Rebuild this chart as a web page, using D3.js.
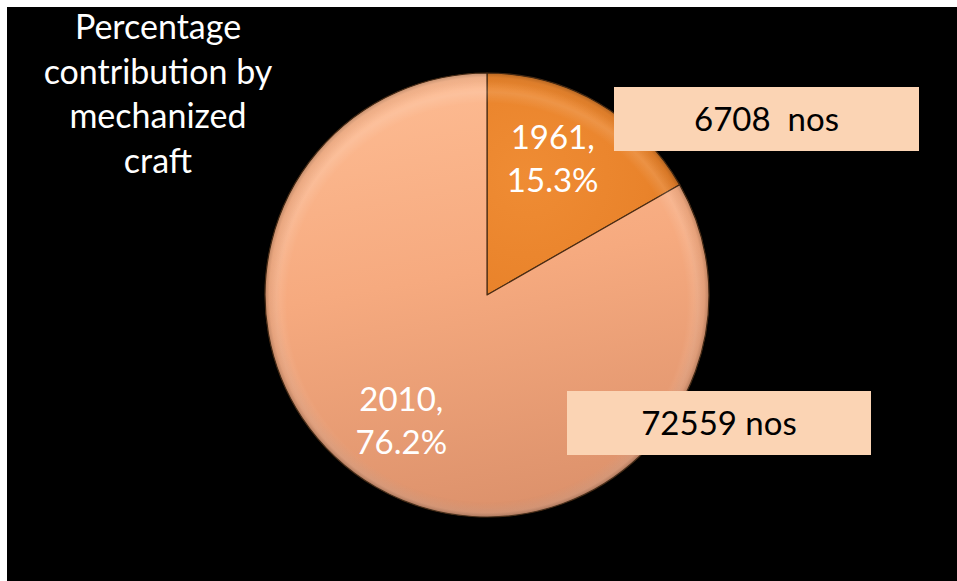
<!DOCTYPE html>
<html>
<head>
<meta charset="utf-8">
<script src="https://cdn.jsdelivr.net/npm/d3@7"></script>
<style>
  html, body { margin: 0; padding: 0; background: #ffffff; }
  svg { display: block; }
  text { font-family: Lato, "Open Sans", sans-serif; }
</style>
</head>
<body>
<svg id="chart" width="957" height="581"></svg>
<script>
// Mechanized craft: share by census year
const years = ["1961", "2010"];
const shares = [15.3, 76.2];
const craftCounts = [6708, 72559];
const countLabels = ["6708  nos", "72559 nos"];
const titleLines = ["Percentage", "contribution by", "mechanized", "craft"];

const W = 957, H = 581;
const svg = d3.select("#chart");

// black slide panel
svg.append("rect").attr("x", 7).attr("y", 7).attr("width", W - 7).attr("height", H - 7).attr("fill", "#000");

const defs = svg.append("defs");
const cx = 487, cy = 295, R = 222;

// slice gradients (coordinates relative to the pie centre)
const grad1961 = defs.append("radialGradient").attr("id", "g1961")
  .attr("gradientUnits", "userSpaceOnUse").attr("cx", 40).attr("cy", -120).attr("r", 200);
grad1961.append("stop").attr("offset", "0%").attr("stop-color", "#ef8c34");
grad1961.append("stop").attr("offset", "60%").attr("stop-color", "#e9832b");
grad1961.append("stop").attr("offset", "100%").attr("stop-color", "#dc7522");

const grad2010 = defs.append("linearGradient").attr("id", "g2010")
  .attr("gradientUnits", "userSpaceOnUse")
  .attr("x1", -60).attr("y1", -R).attr("x2", 20).attr("y2", R);
grad2010.append("stop").attr("offset", "0%").attr("stop-color", "#fdbb92");
grad2010.append("stop").attr("offset", "45%").attr("stop-color", "#f6aa7f");
grad2010.append("stop").attr("offset", "100%").attr("stop-color", "#dc916b");

// edge shading for bevel look
const edge = defs.append("radialGradient").attr("id", "edge")
  .attr("gradientUnits", "userSpaceOnUse").attr("cx", 0).attr("cy", 0).attr("r", R);
edge.append("stop").attr("offset", "0%").attr("stop-color", "#000").attr("stop-opacity", 0);
edge.append("stop").attr("offset", "93%").attr("stop-color", "#000").attr("stop-opacity", 0);
edge.append("stop").attr("offset", "98%").attr("stop-color", "#000").attr("stop-opacity", 0.06);
edge.append("stop").attr("offset", "100%").attr("stop-color", "#000").attr("stop-opacity", 0.22);

// light rim near the top
const rim = defs.append("radialGradient").attr("id", "rim")
  .attr("gradientUnits", "userSpaceOnUse").attr("cx", 0).attr("cy", 8).attr("r", R);
rim.append("stop").attr("offset", "0%").attr("stop-color", "#fff").attr("stop-opacity", 0);
rim.append("stop").attr("offset", "90%").attr("stop-color", "#fff").attr("stop-opacity", 0);
rim.append("stop").attr("offset", "95%").attr("stop-color", "#fff").attr("stop-opacity", 0.12);
rim.append("stop").attr("offset", "100%").attr("stop-color", "#fff").attr("stop-opacity", 0);

const sliceColors = { "1961": "url(#g1961)", "2010": "url(#g2010)" };

const g = svg.append("g").attr("transform", `translate(${cx},${cy})`);

const pieData = d3.pie().sort(null).value(d => d.share)(
  years.map((y, i) => ({ year: y, share: shares[i] }))
);
const arc = d3.arc().innerRadius(0).outerRadius(R);
const labelArc = d3.arc().innerRadius(R * 0.68).outerRadius(R * 0.68);

g.selectAll("path.slice").data(pieData).join("path")
  .attr("class", "slice")
  .attr("d", arc)
  .attr("fill", d => sliceColors[d.data.year])
  .attr("stroke", "#4a2c14")
  .attr("stroke-width", 1.2)
  .attr("stroke-linejoin", "round");

// bevel overlays
g.selectAll("path.rim").data(pieData).join("path")
  .attr("class", "rim").attr("d", arc).attr("fill", "url(#rim)");
g.selectAll("path.edge").data(pieData).join("path")
  .attr("class", "edge").attr("d", arc).attr("fill", "url(#edge)");

// slice labels
g.selectAll("text.slabel").data(pieData).join("text")
  .attr("class", "slabel")
  .attr("text-anchor", "middle")
  .attr("fill", "#ffffff")
  .attr("font-size", 33)
  .each(function (d) {
    const [x, y] = labelArc.centroid(d);
    const t = d3.select(this);
    t.append("tspan").attr("x", x - 10).attr("y", y - 15).text(d.data.year + ",");
    t.append("tspan").attr("x", x - 10).attr("y", y + 28).text(d3.format(".1f")(d.data.share) + "%");
  });

// count call-out boxes
const boxes = [
  { x: 614, y: 87, w: 305, h: 64 },
  { x: 567, y: 391, w: 304, h: 64 }
];
const bx = svg.selectAll("g.box").data(boxes).join("g").attr("class", "box");
bx.append("rect")
  .attr("x", d => d.x).attr("y", d => d.y)
  .attr("width", d => d.w).attr("height", d => d.h)
  .attr("fill", "#fbd4b4");
bx.append("text")
  .attr("x", d => d.x + d.w / 2)
  .attr("y", d => d.y + 44)
  .attr("text-anchor", "middle")
  .attr("fill", "#000")
  .attr("font-size", 33)
  .style("white-space", "pre")
  .text((d, i) => countLabels[i]);

// title
svg.append("text")
  .attr("text-anchor", "middle")
  .attr("fill", "#ffffff")
  .attr("font-size", 34)
  .selectAll("tspan").data(titleLines).join("tspan")
  .attr("x", 158)
  .attr("y", (d, i) => 39 + i * 44.5)
  .text(d => d);
</script>
</body>
</html>
